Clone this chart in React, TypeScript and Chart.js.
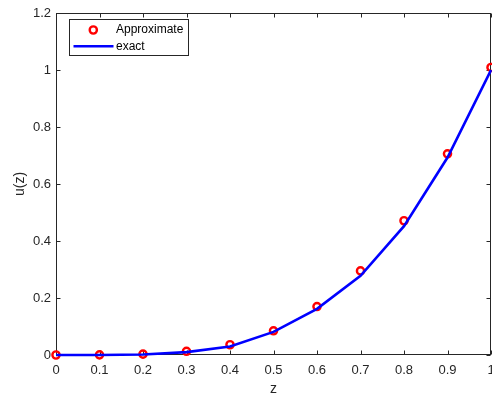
import { useEffect, useRef } from 'react';
import { Chart, registerables } from 'chart.js';

Chart.register(...registerables);

// Grid points along z
const zValues = [0, 0.1, 0.2, 0.3, 0.4, 0.5, 0.6, 0.7, 0.8, 0.9, 1];
// Numerical approximation of u(z)
const approximate = [0, 0.0005, 0.003, 0.013, 0.036, 0.085, 0.17, 0.295, 0.471, 0.706, 1.009];
// Exact solution u(z)
const exact = [0, 0.0002, 0.002, 0.01, 0.03, 0.081, 0.162, 0.278, 0.452, 0.693, 1.0];

// Axis tick labels
const xTickLabels = ['0', '0.1', '0.2', '0.3', '0.4', '0.5', '0.6', '0.7', '0.8', '0.9', '1'];
const yTickLabels = ['0', '0.2', '0.4', '0.6', '0.8', '1', '1.2'];

const seriesNames = ['Approximate', 'exact'];
const xTitle = 'z';
const yTitle = 'u(z)';

const AXIS_COLOR = '#262626';
const FONT = '"Liberation Sans", Arial, Helvetica, sans-serif';

const framePlugin = {
  id: 'frame',
  beforeDatasetsDraw(chart: any) {
    const { ctx, chartArea, scales } = chart;
    const { left, right, top, bottom } = chartArea;
    const l = Math.round(left) + 0.5;
    const r = Math.round(right) - 0.5;
    const t = Math.round(top) + 0.5;
    const b = Math.round(bottom) - 0.5;
    ctx.save();
    ctx.strokeStyle = AXIS_COLOR;
    ctx.lineWidth = 1;
    ctx.strokeRect(l, t, r - l, b - t);
    const tl = 4;
    ctx.beginPath();
    scales.x.ticks.forEach((tk: any) => {
      const px = Math.round(scales.x.getPixelForValue(tk.value)) + 0.5;
      ctx.moveTo(px, b);
      ctx.lineTo(px, b - tl);
      ctx.moveTo(px, t);
      ctx.lineTo(px, t + tl);
    });
    scales.y.ticks.forEach((tk: any) => {
      const py = Math.round(scales.y.getPixelForValue(tk.value)) + 0.5;
      ctx.moveTo(l, py);
      ctx.lineTo(l + tl, py);
      ctx.moveTo(r, py);
      ctx.lineTo(r - tl, py);
    });
    ctx.stroke();
    ctx.restore();
  },
  afterDraw(chart: any) {
    const { ctx, chartArea } = chart;
    ctx.save();
    // axis titles
    ctx.fillStyle = AXIS_COLOR;
    ctx.font = `14px ${FONT}`;
    ctx.textAlign = 'center';
    ctx.textBaseline = 'alphabetic';
    ctx.fillText(xTitle, (chartArea.left + chartArea.right) / 2, 392.5);
    ctx.translate(20, (chartArea.top + chartArea.bottom) / 2);
    ctx.rotate(-Math.PI / 2);
    ctx.textBaseline = 'middle';
    ctx.fillText(yTitle, 0, 0);
    ctx.restore();

    // legend
    const ds = chart.data.datasets;
    const bx = 69.5;
    const by = 19.5;
    const bw = 119;
    const bh = 36;
    ctx.save();
    ctx.fillStyle = '#ffffff';
    ctx.fillRect(bx, by, bw, bh);
    ctx.strokeStyle = AXIS_COLOR;
    ctx.lineWidth = 1;
    ctx.strokeRect(bx, by, bw, bh);
    // marker entry
    ctx.strokeStyle = ds[1].borderColor;
    ctx.lineWidth = 2.4;
    ctx.beginPath();
    ctx.arc(93.3, 30, 3.6, 0, Math.PI * 2);
    ctx.stroke();
    // line entry
    ctx.strokeStyle = ds[0].borderColor;
    ctx.lineWidth = 2.5;
    ctx.beginPath();
    ctx.moveTo(73.5, 46.3);
    ctx.lineTo(113.5, 46.3);
    ctx.stroke();
    ctx.fillStyle = '#000000';
    ctx.font = `12px ${FONT}`;
    ctx.textAlign = 'left';
    ctx.textBaseline = 'middle';
    ctx.fillText(seriesNames[0], 116, 30);
    ctx.fillText(seriesNames[1], 116, 46.5);
    ctx.restore();
  },
};

export default function App() {
  const canvasRef = useRef<HTMLCanvasElement | null>(null);

  useEffect(() => {
    const canvas = canvasRef.current;
    if (!canvas) return;
    const chart = new Chart(canvas, {
      type: 'line',
      data: {
        datasets: [
          {
            label: seriesNames[1],
            data: zValues.map((z, i) => ({ x: z, y: exact[i] })),
            borderColor: '#0000ff',
            borderWidth: 2.6,
            pointRadius: 0,
            fill: false,
            tension: 0,
            clip: false as any,
            order: 0,
          },
          {
            label: seriesNames[0],
            data: zValues.map((z, i) => ({ x: z, y: approximate[i] })),
            showLine: false,
            borderColor: '#ff0000',
            backgroundColor: 'rgba(0,0,0,0)',
            pointBorderColor: '#ff0000',
            pointBackgroundColor: 'rgba(0,0,0,0)',
            pointBorderWidth: 2.4,
            pointRadius: 3.6,
            clip: false as any,
            order: 1,
          },
        ],
      },
      options: {
        responsive: false,
        animation: false,
        devicePixelRatio: 1,
        layout: { autoPadding: false, padding: { top: 13, right: 1, left: 0, bottom: 0 } },
        plugins: {
          legend: { display: false },
          tooltip: { enabled: false },
        },
        scales: {
          x: {
            type: 'linear',
            min: 0,
            max: 1,
            grid: { display: false, drawTicks: false },
            border: { display: false },
            ticks: {
              stepSize: 0.1,
              padding: 8,
              color: AXIS_COLOR,
              font: { family: FONT, size: 13 },
              maxRotation: 0,
              autoSkip: false,
              callback: (_v: any, i: number) => xTickLabels[i],
            },
            afterFit(scale: any) {
              scale.height = 41;
              scale.paddingLeft = 0;
              scale.paddingRight = 0;
            },
          },
          y: {
            type: 'linear',
            min: 0,
            max: 1.2,
            grid: { display: false, drawTicks: false },
            border: { display: false },
            ticks: {
              stepSize: 0.2,
              padding: 5,
              color: AXIS_COLOR,
              font: { family: FONT, size: 13 },
              callback: (_v: any, i: number) => yTickLabels[i],
            },
            afterFit(scale: any) {
              scale.width = 56;
              scale.paddingTop = 0;
              scale.paddingBottom = 0;
            },
          },
        },
      },
      plugins: [framePlugin],
    });
    return () => chart.destroy();
  }, []);

  return (
    <div style={{ position: 'fixed', left: 0, top: 0, width: 492, height: 396, background: '#ffffff' }}>
      <canvas ref={canvasRef} width={492} height={396} style={{ display: 'block' }} />
    </div>
  );
}
